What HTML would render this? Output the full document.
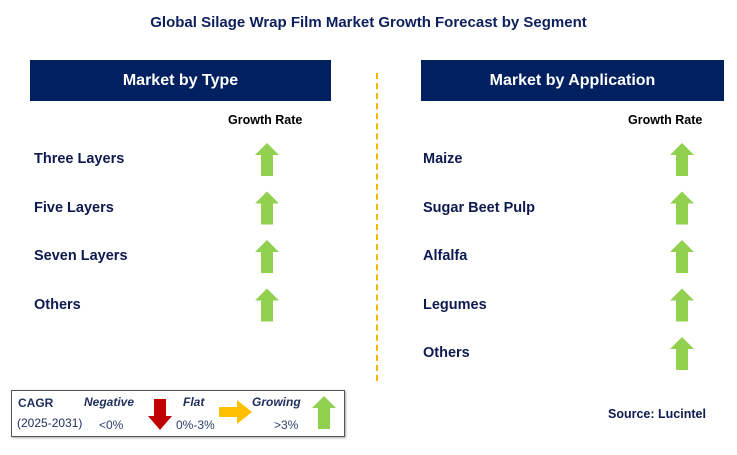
<!DOCTYPE html>
<html><head><meta charset="utf-8"><style>
body{margin:0;width:737px;height:455px;background:#fff;position:relative;overflow:hidden;font-family:"Liberation Sans",sans-serif}
.a{position:absolute}
.t{color:#0d1a4f;font-weight:bold;font-size:14.5px}
.hdr{background:#002060;color:#fff;font-weight:bold;font-size:16px;text-align:center;line-height:41px;height:41px;top:60px}
.gr{font-size:12.5px;font-weight:bold;color:#000}
</style></head><body>
<div class="a" style="left:0;width:737px;top:14px;text-align:center;font-weight:bold;font-size:15px;color:#0d1f5c">Global Silage Wrap Film Market Growth Forecast by Segment</div>
<div class="a hdr" style="left:30px;width:301px">Market by Type</div>
<div class="a hdr" style="left:421px;width:303px">Market by Application</div>
<div class="a" style="left:376px;top:73px;height:308px;border-left:2px dashed #f5b800"></div>
<div class="a gr" style="left:228px;top:113px">Growth Rate</div>
<div class="a gr" style="left:628px;top:113px">Growth Rate</div>
<svg class="a" style="left:0;top:0" width="737" height="455" id="s"></svg>
<div class="a" style="left:11px;top:390px;width:332px;height:45px;border:1px solid #555;box-shadow:1px 1px 2px #aaa"></div>
<div class="a" style="left:18px;top:396px;font-size:12px;font-weight:bold;color:#1f2f5c">CAGR</div>
<div class="a" style="left:17px;top:416px;font-size:12px;color:#1f2f5c">(2025-2031)</div>
<div class="a" style="left:84px;top:395px;font-size:12px;font-weight:bold;font-style:italic;color:#1f2f5c">Negative</div>
<div class="a" style="left:99px;top:418px;font-size:12px;color:#2f3f70">&lt;0%</div>
<div class="a" style="left:183px;top:395px;font-size:12px;font-weight:bold;font-style:italic;color:#1f2f5c">Flat</div>
<div class="a" style="left:176px;top:418px;font-size:12px;color:#2f3f70">0%-3%</div>
<div class="a" style="left:252px;top:395px;font-size:12px;font-weight:bold;font-style:italic;color:#1f2f5c">Growing</div>
<div class="a" style="left:274px;top:418px;font-size:12px;color:#2f3f70">&gt;3%</div>
<div class="a" style="left:608px;top:407px;font-size:12.5px;font-weight:bold;color:#0d1a4f">Source: Lucintel</div>
<script>
const typeLabels=["Three Layers","Five Layers","Seven Layers","Others"];
const appLabels=["Maize","Sugar Beet Pulp","Alfalfa","Legumes","Others"];
const typeTrend=["up","up","up","up"];
const appTrend=["up","up","up","up","up"];
const rowY=i=>160+i*48.5;
const s=document.getElementById('s');const NS='http://www.w3.org/2000/svg';
function up(cx,cy,c){const p=document.createElementNS(NS,'polygon');
p.setAttribute('points',`${cx},${cy-17} ${cx+12},${cy-5} ${cx+6},${cy-5} ${cx+6},${cy+16} ${cx-6},${cy+16} ${cx-6},${cy-5} ${cx-12},${cy-5}`);
p.setAttribute('fill',c);


s.appendChild(p);return p;}
function lab(x,y,t){const d=document.createElement('div');d.className='a t';d.style.left=x+'px';d.style.top=(y-9)+'px';d.textContent=t;


document.body.appendChild(d);}
typeLabels.forEach((t,i)=>{lab(34,rowY(i),t);if(typeTrend[i]==='up')up(267,rowY(i),'#92d050');});
appLabels.forEach((t,i)=>{lab(423,rowY(i),t);if(appTrend[i]==='up')up(682,rowY(i),'#92d050');});
const dn=document.createElementNS(NS,'polygon');
dn.setAttribute('points','154,399 166,399 166,416 172,416 160,430 148,416 154,416');
dn.setAttribute('fill','#c00000');


s.appendChild(dn);
const rt=document.createElementNS(NS,'polygon');
rt.setAttribute('points','219,407 237,407 237,400 252,412 237,424 237,417 219,417');
rt.setAttribute('fill','#ffc000');


s.appendChild(rt);
up(324,413,'#92d050');
</script>
</body></html>
